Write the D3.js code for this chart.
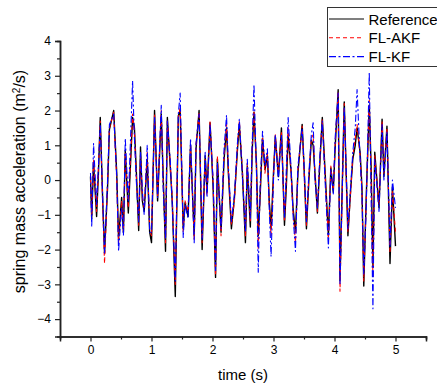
<!DOCTYPE html>
<html>
<head>
<meta charset="utf-8">
<script src="https://cdn.jsdelivr.net/npm/d3@7"></script>
<style>
  body { margin: 0; background: #fff; }
  svg { display: block; font-family: "Liberation Sans", Arial, sans-serif; }
</style>
</head>
<body>
<div id="chart"></div>
<script>
// time samples (s) at the turning points
const time = [
  0.00, 0.02, 0.05, 0.10, 0.13, 0.16, 0.20, 0.23, 0.28, 0.31,
  0.38, 0.43, 0.46, 0.51, 0.54, 0.57, 0.62, 0.69, 0.72, 0.75,
  0.79, 0.82, 0.85, 0.88, 0.93, 0.97, 1.00, 1.05, 1.10, 1.16,
  1.19, 1.23, 1.26, 1.31, 1.34, 1.39, 1.44, 1.47, 1.52, 1.55,
  1.60, 1.64, 1.70, 1.73, 1.78, 1.83, 1.88, 1.91, 1.96, 2.01,
  2.05, 2.08, 2.14, 2.19, 2.23, 2.26, 2.31, 2.36, 2.41, 2.44,
  2.49, 2.54, 2.57, 2.62, 2.65, 2.68, 2.72, 2.75, 2.78, 2.82,
  2.86, 2.90, 2.93, 2.96, 3.00, 3.03, 3.08, 3.13, 3.18, 3.21,
  3.24, 3.29, 3.32, 3.36, 3.40, 3.47, 3.50, 3.54, 3.58, 3.62,
  3.65, 3.68, 3.72, 3.76, 3.80, 3.85, 3.90, 3.94, 3.98, 4.01,
  4.06, 4.09, 4.16, 4.19, 4.22, 4.26, 4.30, 4.34, 4.37, 4.42,
  4.45, 4.48, 4.52, 4.57, 4.60, 4.63, 4.66, 4.73, 4.78, 4.81,
  4.86, 4.91, 4.95, 5.00
];

const reference = [
  0.1, -1.1, 0.5, -1.05, 0.2, 1.8, -0.6, -2.1, -0.2, 1.45,
  2.0, 0.2, -1.7, -0.5, -1.5, 0.85, -0.95, 1.8, 1.5, 0.3,
  -1.45, 0.95, -0.6, -0.9, 0.6, -1.5, -1.8, 2.0, -0.6, 1.9,
  0.2, -2.05, 1.8, 0.3, -0.6, -3.35, 1.85, 2.0, -1.4, -0.65,
  -1.05, 1.0, -1.6, 0.9, 2.0, -2.0, 0.7, -0.35, 1.65, -0.2,
  -2.8, 0.6, -1.5, 0.6, 1.5, 0.2, -1.4, -0.5, 0.9, 1.6,
  0.2, -1.8, 0.4, -1.35, 0.8, 1.95, 0.5, -1.6, -0.5, 1.2,
  0.3, 0.7, -0.6, -1.4, 0.2, 1.25, 0.1, 1.5, -1.3, -0.2,
  1.3, 0.2, -0.8, -1.5, 0.2, 1.6, 0.4, -1.4, 0.0, 1.15,
  1.0, 0.2, -0.95, 0.5, 1.8, 0.1, -1.6, 0.35, -0.35, 0.9,
  2.6, -2.9, 2.25, 0.3, -1.6, -0.4, 0.6, 1.0, 1.5, 0.8,
  -0.2, -3.05, -0.5, 2.15, 0.4, -2.5, 0.8, -0.8, 1.75, 0.1,
  1.55, -2.4, -0.2, -1.9
];

const flAkf = [
  0.0, -1.0, 0.6, -0.9, 0.3, 1.7, -0.7, -2.4, -0.1, 1.5,
  1.95, 0.0, -1.8, -0.6, -1.5, 0.8, -0.8, 1.9, 1.4, 0.2,
  -1.3, 0.7, -0.5, -0.8, 0.8, -1.4, -1.6, 1.9, -0.5, 2.0,
  0.1, -1.8, 1.75, 0.4, -0.5, -3.0, 1.8, 2.1, -1.5, -0.6,
  -0.9, 1.0, -1.7, 1.0, 1.95, -1.8, 0.6, -0.4, 1.7, -0.1,
  -2.75, 0.7, -1.6, 0.7, 1.6, 0.3, -1.3, -0.6, 1.0, 1.7,
  0.3, -1.6, 0.5, -1.2, 0.9, 2.0, 0.4, -2.0, -0.4, 1.25,
  0.2, 0.8, -0.7, -1.6, 0.1, 1.3, 0.2, 1.4, -1.2, 0.0,
  1.5, 0.1, -0.9, -1.8, 0.3, 1.55, 0.3, -1.3, 0.1, 1.2,
  1.3, 0.1, -0.9, 0.6, 1.75, 0.0, -1.7, 0.4, -0.3, 1.0,
  2.55, -3.2, 2.2, 0.2, -1.5, -0.5, 0.7, 1.2, 1.6, 0.7,
  -0.3, -2.9, -0.6, 2.3, 0.2, -2.8, 0.7, -0.7, 1.7, 0.2,
  1.5, -2.1, -0.3, -1.5
];

const flKf = [
  0.2, -1.35, 1.05, -0.7, 0.4, 1.6, -0.5, -2.1, 0.0, 1.6,
  1.9, 0.1, -2.05, -0.8, -1.6, 1.2, -0.6, 2.85, 1.2, 0.0,
  -1.2, 0.8, -0.3, -1.0, 1.0, -1.5, -1.5, 1.8, -0.5, 2.15,
  -0.2, -1.7, 1.7, 0.5, -0.7, -2.9, 1.9, 2.5, -1.65, -0.7,
  -1.1, 1.2, -1.8, 1.05, 1.9, -1.7, 0.8, -0.5, 1.6, 0.0,
  -2.6, 0.5, -1.4, 0.9, 1.87, 0.4, -1.2, -0.4, 1.1, 1.75,
  0.1, -1.5, 0.6, -1.1, 1.0, 2.75, 0.3, -2.65, -0.2, 1.4,
  0.4, 0.9, -0.8, -2.2, 0.0, 1.3, 0.0, 1.3, -1.1, 0.3,
  1.8, 0.3, -1.0, -2.05, 0.4, 1.5, 0.5, -1.2, 0.2, 1.3,
  1.65, 0.0, -0.8, 0.7, 1.7, -0.2, -1.95, 0.3, -0.4, 1.2,
  2.5, -3.0, 2.1, 0.4, -1.4, -0.3, 0.8, 1.5, 2.6, 0.6,
  -0.4, -2.7, -0.8, 3.1, -0.5, -3.7, 0.6, -0.9, 1.6, 0.0,
  1.4, -1.9, 0.0, -0.8
];

const seriesNames = ['Reference', 'FL-AKF', 'FL-KF'];
const xTicks = [0, 1, 2, 3, 4, 5];
const xMinor = [-0.5, 0.5, 1.5, 2.5, 3.5, 4.5, 5.5];
const yTicks = [-4, -3, -2, -1, 0, 1, 2, 3, 4];
const yMinor = [-3.5, -2.5, -1.5, -0.5, 0.5, 1.5, 2.5, 3.5];

const W = 437, H = 387;
const margin = {top: 41, right: 11, bottom: 50.5, left: 60};

const svg = d3.select('#chart').append('svg')
  .attr('width', W).attr('height', H);

const x = d3.scaleLinear().domain([-0.5, 5.5]).range([margin.left, W - margin.right]);
const y = d3.scaleLinear().domain([-4.5, 4]).range([H - margin.bottom, margin.top]);

// lines
const styles = [
  {data: reference, color: '#000000', width: 1.4, dash: null},
  {data: flAkf, color: '#ff0000', width: 1.1, dash: '4,3'},
  {data: flKf, color: '#0000ff', width: 1.1, dash: '7,2.5,2,2.5'}
];

const line = d3.line()
  .x(d => x(d[0]))
  .y(d => y(d[1]));

styles.forEach(s => {
  svg.append('path')
    .datum(time.map((t, i) => [t, s.data[i]]))
    .attr('fill', 'none')
    .attr('stroke', s.color)
    .attr('stroke-width', s.width)
    .attr('stroke-dasharray', s.dash)
    .attr('stroke-linejoin', 'round')
    .attr('d', line);
});

// axes
const axisColor = '#222';
svg.append('g')
  .attr('transform', 'translate(0,' + (H - margin.bottom) + ')')
  .call(d3.axisBottom(x).tickValues(xTicks).tickSize(5).tickPadding(4).tickFormat(d3.format('d')));
svg.append('g')
  .attr('transform', 'translate(0,' + (H - margin.bottom) + ')')
  .call(d3.axisBottom(x).tickValues(xMinor).tickSize(3).tickFormat(''));

svg.append('g')
  .attr('transform', 'translate(' + margin.left + ',0)')
  .call(d3.axisLeft(y).tickValues(yTicks).tickSize(5).tickPadding(4).tickFormat(d3.format('d')));
svg.append('g')
  .attr('transform', 'translate(' + margin.left + ',0)')
  .call(d3.axisLeft(y).tickValues(yMinor).tickSize(3).tickFormat(''));

svg.selectAll('.domain').attr('stroke', axisColor).attr('stroke-width', 1.5);
svg.selectAll('.tick line').attr('stroke', axisColor).attr('stroke-width', 1.2);
svg.selectAll('.tick text')
  .attr('fill', '#000')
  .style('font-size', '12px')
  .style('font-family', '"Liberation Sans", Arial, sans-serif');

// axis titles
svg.append('text')
  .attr('x', (margin.left + W - margin.right) / 2)
  .attr('y', 380)
  .attr('text-anchor', 'middle')
  .style('font-size', '15px')
  .text('time (s)');

const yTitle = svg.append('text')
  .attr('transform', 'translate(24.5,181.5) rotate(-90)')
  .attr('text-anchor', 'middle')
  .style('font-size', '16px');
yTitle.append('tspan').text('spring mass acceleration (m');
yTitle.append('tspan').attr('baseline-shift', 'super').style('font-size', '10px').text('2');
yTitle.append('tspan').text('/s)');

// legend
const legend = svg.append('g');
legend.append('rect')
  .attr('x', 327.5).attr('y', 7.5)
  .attr('width', 115).attr('height', 59)
  .attr('fill', '#fff')
  .attr('stroke', '#333')
  .attr('stroke-width', 1);

seriesNames.forEach((name, i) => {
  const ly = 19 + i * 18.8;
  legend.append('line')
    .attr('x1', 329).attr('x2', 364)
    .attr('y1', ly).attr('y2', ly)
    .attr('stroke', styles[i].color)
    .attr('stroke-width', i === 0 ? 1.2 : 1.1)
    .attr('stroke-dasharray', styles[i].dash);
  legend.append('text')
    .attr('x', 368.5).attr('y', ly + 5.5)
    .style('font-size', '15px')
    .text(name);
});
</script>
</body>
</html>
